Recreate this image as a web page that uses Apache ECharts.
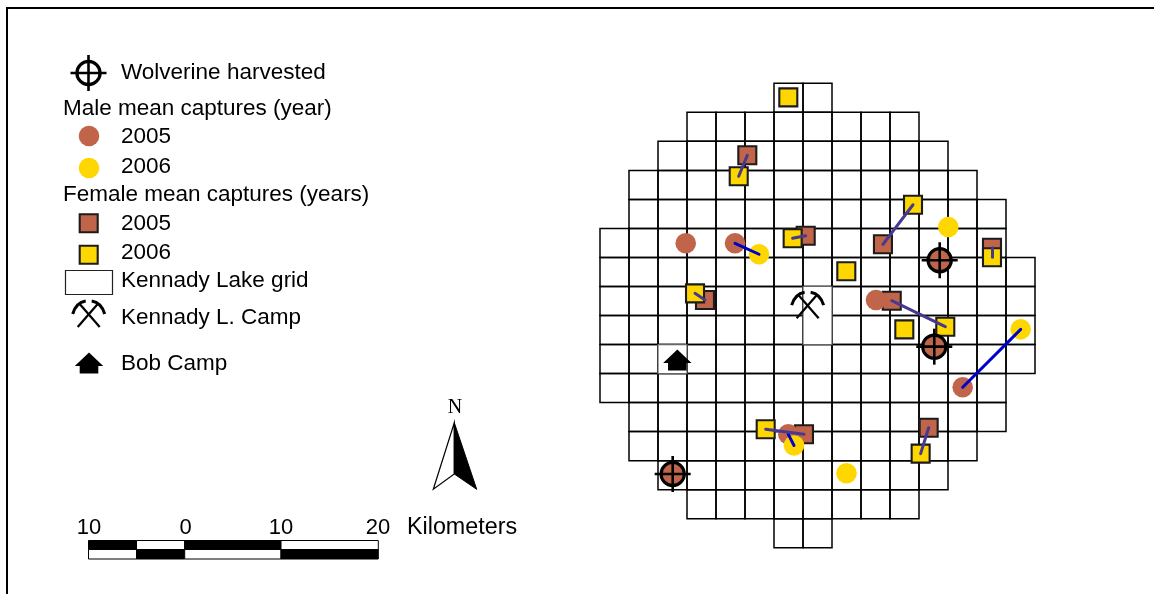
<!DOCTYPE html>
<html><head><meta charset="utf-8">
<style>html,body{margin:0;padding:0;background:#fff}#c{width:1154px;height:594px}</style>
<script src="https://cdn.jsdelivr.net/npm/echarts@6/dist/echarts.min.js"></script>
</head><body><div id="c"></div>
<script>
// ---- data: positions in km, east / north of the grid's south-west corner ----
const cellKm = 3;
// first and last column of the Kennady Lake grid, for each row from north to south
const rowFirstCol = [6,3,2,1,1,0,0,0,0,0,0,1,1,2,3,6];
const rowLastCol  = [7,10,11,12,13,13,14,14,14,14,13,13,12,11,10,7];
// camp cells [column, row, rows spanned]
const campCells = [[7,7,2],[2,9,1]];
const kennadyCamp = [[21.48,24.86]];
const bobCamp = [[8.0,19.4]];
const male2005 = [[8.87,31.46],[13.97,31.46],[28.55,25.60],[19.48,11.72],[37.52,16.58],[35.14,29.71],[34.58,20.78],[7.52,7.62]];
const male2006 = [[16.45,30.33],[36.03,33.15],[43.52,22.57],[20.07,10.56],[25.50,7.69]];
const female2005 = [[15.24,40.56],[21.28,32.25],[29.27,31.36],[40.55,31.01],[10.86,25.60],[30.18,25.53],[21.10,11.72],[34.0,12.40]];
const female2006 = [[19.48,46.55],[14.35,38.39],[19.93,31.98],[32.38,35.45],[25.48,28.57],[40.55,30.02],[9.83,26.29],[31.48,22.57],[35.72,22.84],[17.14,12.24],[33.17,9.72]];
const harvested = [[35.14,29.71],[34.58,20.78],[7.52,7.62]];
// 2005 -> 2006 movements, as [index in 2005 list, index in 2006 list]
const maleMoves = [[1,0],[4,2],[3,3]];
const femaleMoves = [[0,1],[1,2],[2,3],[3,5],[4,6],[5,8],[6,9],[7,10]];
const legendLabels = ['Wolverine harvested','2005','2006','2005','2006','Kennady Lake grid','Kennady L. Camp','Bob Camp'];
const legendHeadings = ['Male mean captures (year)','Female mean captures (years)'];
const scaleLabels = ['10','0','10','20'];
const scaleUnit = 'Kilometers';

// ---- styling ----
const BROWN='#C0654A', YELLOW='#FFD700', EDGE='#1c1c1c', BLUE='#0000C8', PURPLE='#46398E';
const FONT='22.5px "Liberation Sans", Arial, sans-serif';

function crosshair(x,y){return {type:'group',x,y,silent:true,children:[
  {type:'circle',shape:{cx:0,cy:0,r:11.6},style:{fill:'none',stroke:'#000',lineWidth:3.2}},
  {type:'line',shape:{x1:-18,y1:0,x2:18,y2:0},style:{stroke:'#000',lineWidth:2.6}},
  {type:'line',shape:{x1:0,y1:-18,x2:0,y2:18},style:{stroke:'#000',lineWidth:2.6}}]};}
function pick(x,y){const s={fill:'none',stroke:'#000',lineWidth:2.2};return {type:'group',x,y,silent:true,children:[
  {type:'line',shape:{x1:-11,y1:11,x2:9,y2:-12},style:s},
  {type:'line',shape:{x1:11,y1:11,x2:-9,y2:-12},style:s},
  {type:'bezierCurve',shape:{x1:-16,y1:-2,cpx1:-14,cpy1:-9,cpx2:-9,cpy2:-14,x2:-3,y2:-15},style:{...s,lineWidth:3}},
  {type:'bezierCurve',shape:{x1:16,y1:-2,cpx1:14,cpy1:-9,cpx2:9,cpy2:-14,x2:3,y2:-15},style:{...s,lineWidth:3}}]};}
function house(x,y){return {type:'polygon',x,y,silent:true,shape:{points:[[0,-10.5],[14.2,3],[9.3,3],[9.3,10.5],[-9.3,10.5],[-9.3,3],[-14.2,3]]},style:{fill:'#000'}};}

const chart=echarts.init(document.getElementById('c'),null,{renderer:'canvas'});
const cells=[];
rowFirstCol.forEach((f,r)=>{for(let c=f;c<=rowLastCol[r];c++)cells.push([c,r]);});
const xOf=c=>c*cellKm, yOf=r=>(rowFirstCol.length-r)*cellKm;

const texts=[];
const T=(text,x,y,extra)=>texts.push({type:'text',silent:true,style:Object.assign({text,x,y,font:FONT,fill:'#000',textVerticalAlign:'middle'},extra||{})});
const legendLabelY=[73,137,167,224,253,281,318,364];
legendLabels.forEach((l,i)=>T(l,121,legendLabelY[i]));
const headingY=[109,195];
legendHeadings.forEach((l,i)=>T(l,63,headingY[i]));
const scaleLabelX=[89,185.5,281,378];
const scaleFont='22px "Liberation Sans", Arial, sans-serif';
scaleLabels.forEach((l,i)=>T(l,scaleLabelX[i],527.5,{textAlign:'center',font:scaleFont}));
T(scaleUnit,407,527.5,{font:'23.3px "Liberation Sans", Arial, sans-serif'});
T('N',455,408,{font:'20px "Liberation Serif", "Times New Roman", serif',textAlign:'center'});

// scale bar segment edges, in page pixels
const barEdges=[88.5,136.5,184.7,281,378.3];
const bar=[];
for(let i=0;i<4;i++){
  bar.push({type:'rect',silent:true,shape:{x:barEdges[i],y:540.5,width:barEdges[i+1]-barEdges[i],height:9},style:{fill:i%2?'#fff':'#000',stroke:'#000',lineWidth:1}});
  bar.push({type:'rect',silent:true,shape:{x:barEdges[i],y:549.5,width:barEdges[i+1]-barEdges[i],height:9.5},style:{fill:i%2?'#000':'#fff',stroke:'#000',lineWidth:1}});
}

const graphic=[
  {type:'rect',silent:true,shape:{x:7,y:8,width:1300,height:800},style:{fill:'none',stroke:'#000',lineWidth:2}},
  crosshair(88.5,73),
  {type:'circle',silent:true,shape:{cx:89,cy:136,r:10.3},style:{fill:BROWN}},
  {type:'circle',silent:true,shape:{cx:89,cy:168,r:10.3},style:{fill:YELLOW}},
  {type:'rect',silent:true,shape:{x:79.7,y:214.2,width:18,height:18},style:{fill:BROWN,stroke:EDGE,lineWidth:2.1}},
  {type:'rect',silent:true,shape:{x:79.7,y:245.7,width:18,height:18},style:{fill:YELLOW,stroke:EDGE,lineWidth:2.1}},
  {type:'rect',silent:true,shape:{x:65.5,y:270.5,width:47,height:24},style:{fill:'#fff',stroke:'#222',lineWidth:1.2}},
  pick(88.7,316),
  house(89,363),
  {type:'polygon',silent:true,shape:{points:[[454.3,422.7],[433.3,489.3],[454.3,474]]},style:{fill:'#fff',stroke:'#000',lineWidth:1.2}},
  {type:'polygon',silent:true,shape:{points:[[454.3,422.7],[476.7,489.3],[454.3,474]]},style:{fill:'#000',stroke:'#000',lineWidth:1}},
  ...bar,...texts
];

const scatter=(name,data,symbol,size,color,z,border)=>({name,type:'scatter',z,data,symbol,symbolSize:size,
  itemStyle:{color,opacity:1,borderColor:border||color,borderWidth:border?2.1:0},emphasis:{disabled:true},silent:true});
const moves=(name,pairs,a,b,color,z)=>({name,type:'lines',z,coordinateSystem:'cartesian2d',silent:true,polyline:false,
  data:pairs.map(([i,j])=>({coords:[a[i],b[j]]})),lineStyle:{color,width:3,opacity:1,cap:'round'},effect:{show:false}});

chart.setOption({
  animation:false,backgroundColor:'#fff',
  grid:{left:600,top:83.3,width:435,height:464.4,containLabel:false},
  xAxis:{type:'value',min:0,max:45,show:false},
  yAxis:{type:'value',min:0,max:48,show:false},
  graphic:{elements:graphic},
  series:[
    {name:'Kennady Lake grid',type:'custom',z:1,silent:true,data:cells,encode:{x:0,y:1},
      renderItem:(p,api)=>{const c=api.value(0),r=api.value(1);const a=api.coord([xOf(c),yOf(r)]),b=api.coord([xOf(c+1),yOf(r+1)]);
        return {type:'rect',shape:{x:a[0],y:a[1],width:b[0]-a[0],height:b[1]-a[1]},style:{fill:'none',stroke:'#000',lineWidth:1.5}};}},
    {name:'Camp cells',type:'custom',z:2,silent:true,data:campCells,encode:{x:0,y:1},
      renderItem:(p,api)=>{const c=api.value(0),r=api.value(1),n=api.value(2);const a=api.coord([xOf(c),yOf(r)]),b=api.coord([xOf(c+1),yOf(r+n)]);
        return {type:'rect',shape:{x:a[0],y:a[1],width:b[0]-a[0],height:b[1]-a[1]},style:{fill:'#fff',stroke:'#666',lineWidth:1.2}};}},
    scatter('Female 2005',female2005,'rect',18,BROWN,3,EDGE),
    scatter('Female 2006',female2006,'rect',18,YELLOW,4,EDGE),
    scatter('Male 2005',male2005,'circle',20.6,BROWN,5),
    scatter('Male 2006',male2006,'circle',20.6,YELLOW,6),
    moves('Male movement',maleMoves,male2005,male2006,BLUE,7),
    moves('Female movement',femaleMoves,female2005,female2006,PURPLE,8),
    {name:'Wolverine harvested',type:'custom',z:9,silent:true,data:harvested,encode:{x:0,y:1},
      renderItem:(p,api)=>{const q=api.coord([api.value(0),api.value(1)]);return crosshair(q[0],q[1]);}},
    {name:'Kennady L. Camp',type:'custom',z:9,silent:true,data:kennadyCamp,encode:{x:0,y:1},
      renderItem:(p,api)=>{const q=api.coord([api.value(0),api.value(1)]);return pick(q[0],q[1]);}},
    {name:'Bob Camp',type:'custom',z:9,silent:true,data:bobCamp,encode:{x:0,y:1},
      renderItem:(p,api)=>{const q=api.coord([api.value(0),api.value(1)]);return house(q[0],q[1]);}}
  ]
});
</script></body></html>
